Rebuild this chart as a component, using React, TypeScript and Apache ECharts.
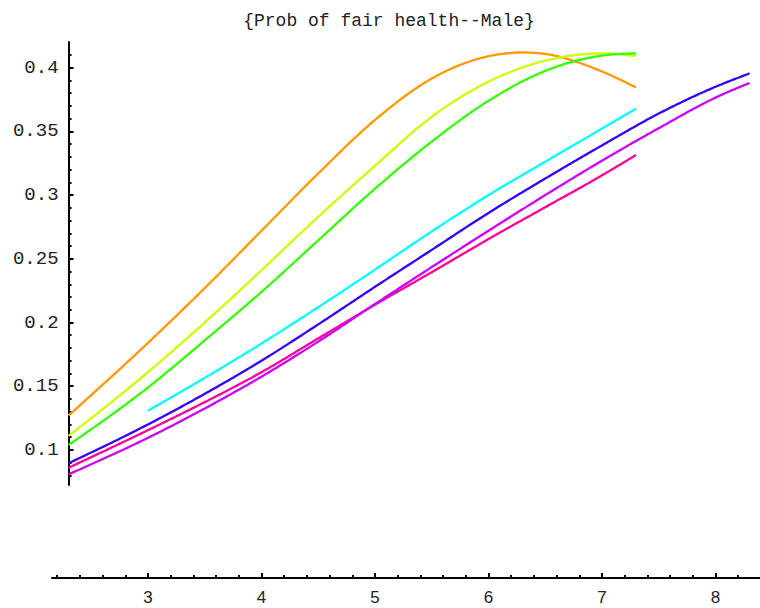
import React, { useEffect, useRef } from "react";
import * as echarts from "echarts";

// Title and tick labels
const TITLE = "{Prob of fair health--Male}";
const yMajorTicks = [0.1, 0.15, 0.2, 0.25, 0.3, 0.35, 0.4];
const yMinorTicks = [
  0.08, 0.09, 0.11, 0.12, 0.13, 0.14, 0.16, 0.17, 0.18, 0.19, 0.21, 0.22, 0.23, 0.24,
  0.26, 0.27, 0.28, 0.29, 0.31, 0.32, 0.33, 0.34, 0.36, 0.37, 0.38, 0.39, 0.41,
];
const xMajorTicks = [3, 4, 5, 6, 7, 8];
const xMinorTicks = [
  2.2, 2.4, 2.6, 2.8, 3.2, 3.4, 3.6, 3.8, 4.2, 4.4, 4.6, 4.8, 5.2, 5.4, 5.6, 5.8,
  6.2, 6.4, 6.6, 6.8, 7.2, 7.4, 7.6, 7.8, 8.2,
];

// Curves: x positions and probabilities
const orangeX = [2.3, 3.0, 3.5, 4.0, 4.5, 5.0, 5.5, 6.0, 6.5, 7.0, 7.3];
const orangeY = [0.127, 0.184, 0.227, 0.272, 0.317, 0.359, 0.3915, 0.409, 0.4108, 0.397, 0.3845];

const yellowX = [2.3, 3.0, 3.5, 4.0, 4.5, 5.0, 5.5, 6.0, 6.5, 7.0, 7.3];
const yellowY = [0.111, 0.161, 0.2, 0.241, 0.283, 0.323, 0.3615, 0.389, 0.4055, 0.4112, 0.4092];

const greenX = [2.3, 3.0, 3.5, 4.0, 4.5, 5.0, 5.5, 6.0, 6.5, 7.0, 7.3];
const greenY = [0.1038, 0.149, 0.186, 0.224, 0.2645, 0.305, 0.342, 0.374, 0.3975, 0.4095, 0.4113];

const cyanX = [3.0, 3.5, 4.0, 4.5, 5.0, 5.5, 6.0, 6.5, 7.0, 7.3];
const cyanY = [0.1308, 0.1565, 0.1835, 0.212, 0.2415, 0.2715, 0.3, 0.3262, 0.3522, 0.3678];

const blueX = [2.3, 3.0, 3.5, 4.0, 4.5, 5.0, 5.5, 6.0, 6.5, 7.0, 7.5, 8.0, 8.3];
const blueY = [0.0895, 0.12, 0.144, 0.17, 0.1985, 0.228, 0.257, 0.286, 0.313, 0.339, 0.364, 0.385, 0.3955];

const pinkX = [2.3, 3.0, 3.5, 4.0, 4.5, 5.0, 5.5, 6.0, 6.5, 7.0, 7.3];
const pinkY = [0.086, 0.1155, 0.1375, 0.161, 0.1875, 0.214, 0.2395, 0.2655, 0.2905, 0.3155, 0.3315];

const purpleX = [2.3, 3.0, 3.5, 4.0, 4.5, 5.0, 5.5, 6.0, 6.5, 7.0, 7.5, 8.0, 8.3];
const purpleY = [0.0808, 0.1095, 0.1325, 0.1575, 0.185, 0.2145, 0.2435, 0.272, 0.3, 0.327, 0.3525, 0.3765, 0.388];

const curves = [
  { name: "orange", x: orangeX, y: orangeY, color: "#ff9900" },
  { name: "yellow", x: yellowX, y: yellowY, color: "#ccff00" },
  { name: "green", x: greenX, y: greenY, color: "#33ff00" },
  { name: "cyan", x: cyanX, y: cyanY, color: "#00ffff" },
  { name: "blue", x: blueX, y: blueY, color: "#3300ff" },
  { name: "pink", x: pinkX, y: pinkY, color: "#ff0099" },
  { name: "purple", x: purpleX, y: purpleY, color: "#cc00ff" },
];

const MONO = "'Liberation Mono', 'DejaVu Sans Mono', monospace";
const SANS = "'Liberation Sans', Arial, sans-serif";

// Cubic Hermite curve through the points (tangents from neighbouring slopes),
// sampled finely so the polyline reads as a smooth curve.
function smoothCurve(xs: number[], ys: number[], perSeg = 24): number[][] {
  const n = xs.length;
  const d: number[] = [];
  for (let i = 0; i < n - 1; i++) d.push((ys[i + 1] - ys[i]) / (xs[i + 1] - xs[i]));
  const m: number[] = new Array(n);
  for (let i = 1; i < n - 1; i++) {
    const h0 = xs[i] - xs[i - 1];
    const h1 = xs[i + 1] - xs[i];
    m[i] = (d[i - 1] * h1 + d[i] * h0) / (h0 + h1);
  }
  m[0] = n > 2 ? (3 * d[0] - m[1]) / 2 : d[0];
  m[n - 1] = n > 2 ? (3 * d[n - 2] - m[n - 2]) / 2 : d[n - 2];
  const out: number[][] = [];
  for (let i = 0; i < n - 1; i++) {
    const h = xs[i + 1] - xs[i];
    for (let s = 0; s < perSeg; s++) {
      const t = s / perSeg;
      const t2 = t * t;
      const t3 = t2 * t;
      const y =
        (2 * t3 - 3 * t2 + 1) * ys[i] +
        (t3 - 2 * t2 + t) * h * m[i] +
        (-2 * t3 + 3 * t2) * ys[i + 1] +
        (t3 - t2) * h * m[i + 1];
      out.push([xs[i] + t * h, y]);
    }
  }
  out.push([xs[n - 1], ys[n - 1]]);
  return out;
}

export default function App() {
  const ref = useRef<HTMLDivElement>(null);

  useEffect(() => {
    if (!ref.current) return;
    const chart = echarts.init(ref.current, undefined, { renderer: "svg" });

    // pixel scale shared by both grids: x = 3 sits at 148px, 113.5px per unit
    const pxPerUnit = 113.5;
    const xAt = (px: number) => 3 + (px - 148) / pxPerUnit;
    const plotLeft = 148 - 0.7 * pxPerUnit;
    const yMin = 0.4 - 417.3 / 1274;
    const yMax = 0.4 + 25.7 / 1274;

    const option: any = {
      animation: false,
      backgroundColor: "#ffffff",
      graphic: [
        {
          type: "text",
          x: 389,
          y: 21,
          style: {
            text: TITLE,
            fill: "#222",
            font: `18px ${MONO}`,
            textAlign: "center",
            textVerticalAlign: "middle",
          },
        },
      ],
      grid: [
        { left: plotLeft, right: 0, top: 42, height: 443, containLabel: false },
        { left: 52, right: 0, top: 560, height: 18, containLabel: false },
      ],
      xAxis: [
        {
          type: "value",
          gridIndex: 0,
          min: 2.3,
          max: xAt(760),
          show: false,
        },
        {
          type: "value",
          gridIndex: 1,
          min: xAt(52),
          max: xAt(760),
          position: "bottom",
          splitLine: { show: false },
          axisLine: { show: true, lineStyle: { color: "#000", width: 2 } },
          axisTick: {
            show: true,
            inside: true,
            length: 5,
            customValues: xMajorTicks,
            lineStyle: { color: "#000", width: 2 },
          },
          axisLabel: {
            show: true,
            customValues: xMajorTicks,
            margin: 11,
            fontFamily: SANS,
            fontSize: 17,
            color: "#222",
            formatter: (v: number) => String(v),
          },
        },
        {
          type: "value",
          gridIndex: 1,
          min: xAt(52),
          max: xAt(760),
          position: "bottom",
          splitLine: { show: false },
          axisLine: { show: false },
          axisLabel: { show: false },
          axisTick: {
            show: true,
            inside: true,
            length: 3,
            customValues: xMinorTicks,
            lineStyle: { color: "#000", width: 2 },
          },
        },
      ],
      yAxis: [
        {
          type: "value",
          gridIndex: 0,
          min: yMin,
          max: yMax,
          position: "left",
          splitLine: { show: false },
          axisLine: { show: true, lineStyle: { color: "#000", width: 2 } },
          axisTick: {
            show: true,
            inside: true,
            length: 5,
            customValues: yMajorTicks,
            lineStyle: { color: "#000", width: 2 },
          },
          axisLabel: {
            show: true,
            customValues: yMajorTicks,
            margin: 10,
            fontFamily: MONO,
            fontSize: 19,
            color: "#222",
            formatter: (v: number) => String(v),
          },
        },
        {
          type: "value",
          gridIndex: 0,
          min: yMin,
          max: yMax,
          position: "left",
          splitLine: { show: false },
          axisLine: { show: false },
          axisLabel: { show: false },
          axisTick: {
            show: true,
            inside: true,
            length: 3,
            customValues: yMinorTicks,
            lineStyle: { color: "#000", width: 2 },
          },
        },
        {
          type: "value",
          gridIndex: 1,
          show: false,
        },
      ],
      series: curves.map((c) => {
        const path = smoothCurve(c.x, c.y);
        return {
          type: "custom",
          name: c.name,
          xAxisIndex: 0,
          yAxisIndex: 0,
          data: c.x.map((x, i) => [x, c.y[i]]),
          encode: { x: 0, y: 1 },
          clip: false,
          silent: true,
          renderItem: (params: any, api: any) => {
            if (params.dataIndex !== 0) return null;
            return {
              type: "polyline",
              shape: { points: path.map((p) => api.coord(p)) },
              style: { stroke: c.color, lineWidth: 2.3, fill: "none", lineJoin: "round" },
            };
          },
        };
      }),
    };

    chart.setOption(option);
    return () => chart.dispose();
  }, []);

  return (
    <div
      ref={ref}
      style={{ position: "fixed", left: 0, top: 0, width: 760, height: 608, background: "#fff" }}
    />
  );
}
